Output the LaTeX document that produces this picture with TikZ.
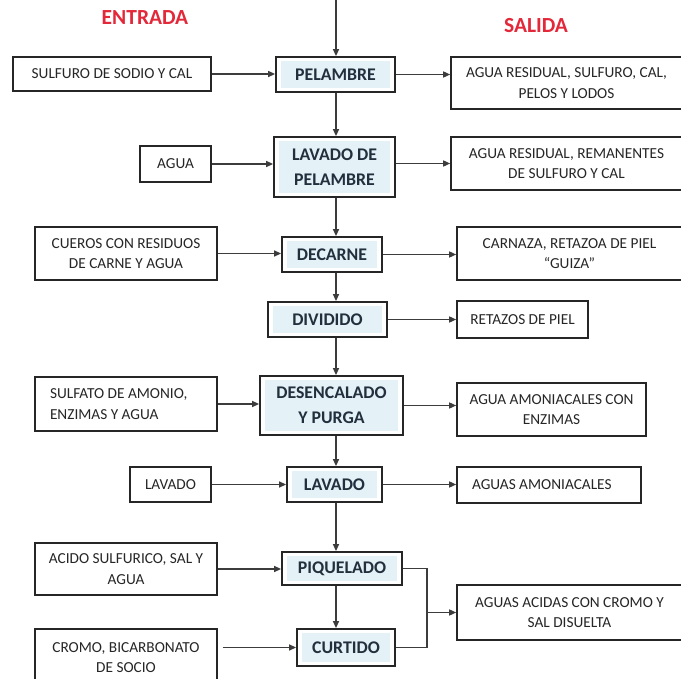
\documentclass[tikz,border=0pt]{standalone}
\usepackage{fontspec}
\setmainfont{Carlito}
\usetikzlibrary{arrows.meta}
\definecolor{boxline}{HTML}{262626}
\definecolor{linegray}{HTML}{3C3C3C}
\definecolor{txt}{HTML}{262626}
\definecolor{proctxt}{HTML}{22303E}
\definecolor{procfill}{HTML}{E4F1F7}
\definecolor{headred}{HTML}{E3283A}
\tikzset{
  inbox/.style={draw=boxline, line width=1.6pt, fill=white, inner sep=0pt,
    font=\fontsize{15.3}{20.5}\selectfont, text=txt, align=center},
  proc/.style={draw=boxline, line width=1.8pt, fill=white, inner sep=0pt,
    font=\fontsize{17.8}{25}\selectfont\bfseries, text=proctxt, align=center,
    path picture={\fill[procfill] ([shift={(5pt,-4pt)}]path picture bounding box.north west)
      rectangle ([shift={(-5pt,4pt)}]path picture bounding box.south east);}},
  head/.style={font=\fontsize{21.5}{24}\selectfont\bfseries, text=headred},
  arr/.style={draw=linegray, line width=1.4pt, -{Triangle[length=7pt,width=6pt]}},
  conn/.style={draw=linegray, line width=1.4pt},
}
\begin{document}
\begin{tikzpicture}[x=1pt,y=-1pt]
\useasboundingbox (0,0) rectangle (681,679);
\fill[white] (0,0) rectangle (681,679);

% headings
\node[head] (hin) at (145,18) {ENTRADA};
\node[head] (hout) at (536,26) {SALIDA};

% main process column
\coordinate (top) at (336,0);
\coordinate (jx) at (427,0);
\node[proc, minimum width=119, minimum height=35] (pel) at (335.5,74.5) {PELAMBRE};
\node[proc, minimum width=121, minimum height=60] (lav1) at (334.5,167) {LAVADO DE\\PELAMBRE};
\node[proc, minimum width=100, minimum height=35] (dec) at (332,254.5) {DECARNE};
\node[proc, minimum width=119, minimum height=35] (div) at (327.5,319.5) {DIVIDIDO};
\node[proc, minimum width=143, minimum height=59] (des) at (331.5,405.5) {DESENCALADO\\Y PURGA};
\node[proc, minimum width=95, minimum height=35] (lav2) at (334.5,484.5) {LAVADO};
\node[proc, minimum width=120, minimum height=33] (piq) at (342,568.5) {PIQUELADO};
\node[proc, minimum width=98, minimum height=37] (cur) at (346,647.5) {CURTIDO};

% inputs
\node[inbox, minimum width=198, minimum height=34] (i1) at (112,74) {SULFURO DE SODIO Y CAL};
\node[inbox, minimum width=71, minimum height=36] (i2) at (175.5,164) {AGUA};
\node[inbox, minimum width=182, minimum height=53] (i3) at (126,253.5) {CUEROS CON RESIDUOS\\DE CARNE Y AGUA};
\node[inbox, minimum width=182, minimum height=54, align=flush left, text width=152] (i4) at (126,404) {SULFATO DE AMONIO,\\ENZIMAS Y AGUA};
\node[inbox, minimum width=81, minimum height=35] (i5) at (170.5,484.5) {LAVADO};
\node[inbox, minimum width=182, minimum height=52] (i6) at (126,569) {ACIDO SULFURICO, SAL Y\\AGUA};
\node[inbox, minimum width=182, minimum height=57] (i7) at (126,657.5) {CROMO, BICARBONATO\\DE SOCIO};

% outputs
\node[inbox, minimum width=231, minimum height=52] (o1) at (566.5,83) {AGUA RESIDUAL, SULFURO, CAL,\\PELOS Y LODOS};
\node[inbox, minimum width=231, minimum height=53] (o2) at (566.5,163.5) {AGUA RESIDUAL, REMANENTES\\DE SULFURO Y CAL};
\node[inbox, minimum width=225, minimum height=53] (o3) at (569.5,253.5) {CARNAZA, RETAZOA DE PIEL\\“GUIZA”};
\node[inbox, minimum width=131, minimum height=37] (o4) at (522.5,319.5) {RETAZOS DE PIEL};
\node[inbox, minimum width=189, minimum height=53] (o5) at (551.5,409.5) {AGUA AMONIACALES CON\\ENZIMAS};
\node[inbox, minimum width=184, minimum height=36, align=flush left, text width=154] (o6) at (549,485) {AGUAS AMONIACALES};
\node[inbox, minimum width=225, minimum height=55] (o7) at (569.5,612.5) {AGUAS ACIDAS CON CROMO Y\\SAL DISUELTA};

% vertical flow
\draw[arr] (top) -- (pel.north -| top);
\draw[arr] (pel.south -| top) -- (lav1.north -| top);
\draw[arr] (lav1.south -| top) -- (dec.north -| top);
\draw[arr] (dec.south -| top) -- (div.north -| top);
\draw[arr] (div.south -| top) -- (des.north -| top);
\draw[arr] (des.south -| top) -- (lav2.north -| top);
\draw[arr] (lav2.south -| top) -- (piq.north -| top);
\draw[arr] (piq.south -| top) -- (cur.north -| top);

% inputs to process
\draw[arr] (i1.east) -- (i1.east -| pel.west);
\draw[arr] (i2.east) -- (i2.east -| lav1.west);
\draw[arr] (i3.east) -- (i3.east -| dec.west);
\draw[arr] (i4.east) -- (i4.east -| des.west);
\draw[arr] (i5.east) -- (i5.east -| lav2.west);
\draw[arr] (i6.east) -- (i6.east -| piq.west);
\draw[arr] ([xshift=5pt]cur.west -| i7.east) -- (cur.west);

% process to outputs
\draw[arr] (pel.east) -- (pel.east -| o1.west);
\draw[arr] (o2.west -| lav1.east) -- (o2.west);
\draw[arr] (dec.east) -- (dec.east -| o3.west);
\draw[arr] (div.east) -- (div.east -| o4.west);
\draw[arr] (des.east) -- (des.east -| o5.west);
\draw[arr] (lav2.east) -- (lav2.east -| o6.west);
\draw[conn] (piq.east) -- (piq.east -| jx) -- (cur.east -| jx) -- (cur.east);
\draw[arr] (o7.west -| jx) -- (o7.west);
\end{tikzpicture}
\end{document}
